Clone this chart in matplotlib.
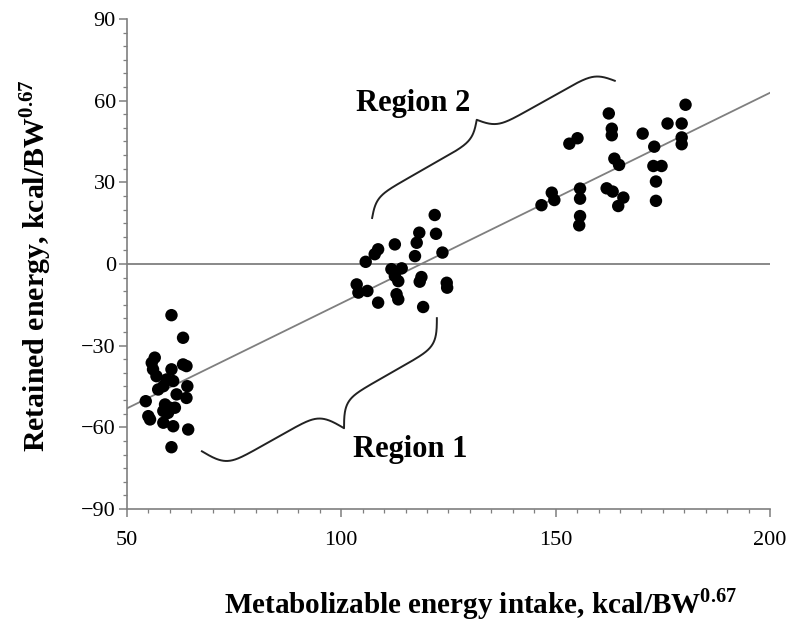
import numpy as np
import matplotlib
matplotlib.use("Agg")
import matplotlib.pyplot as plt

plt.rcParams["font.family"] = ["Liberation Serif", "DejaVu Serif"]
plt.rcParams["mathtext.fontset"] = "custom"
plt.rcParams["mathtext.rm"] = "Liberation Serif"
plt.rcParams["mathtext.bf"] = "Liberation Serif:bold"

# Region 1 (low intake)
me_low = [60.4, 63.1, 56.5, 55.8, 56.1, 60.4, 63.1, 63.9, 56.9, 59.3, 60.8, 64.1, 58.5, 57.3,
          61.6, 63.9, 54.4, 58.9, 60.0, 61.2, 58.5, 59.6, 55.0, 55.4, 58.5, 60.8, 64.3, 60.4]
re_low = [-18.8, -27.1, -34.4, -36.3, -38.7, -38.7, -36.9, -37.5, -41.2, -42.4, -43.0, -44.9,
          -44.9, -46.1, -47.9, -49.2, -50.4, -51.6, -52.8, -52.8, -54.0, -54.7, -55.9, -57.1,
          -58.3, -59.6, -60.8, -67.3]

# middle group
me_mid = [121.8, 118.2, 122.1, 117.6, 112.5, 108.6, 107.8, 117.2, 123.6, 105.7, 111.7, 114.1,
          112.5, 113.3, 118.7, 118.3, 103.6, 124.6, 124.7, 104.0, 106.1, 112.9, 113.3, 108.6, 119.1]
re_mid = [18.0, 11.5, 11.1, 7.8, 7.2, 5.4, 3.6, 2.9, 4.2, 0.8, -1.9, -1.6, -4.4, -6.3, -4.8,
          -6.5, -7.5, -6.9, -8.7, -10.5, -9.9, -11.1, -13.0, -14.2, -15.8]

# Region 2 (high intake)
me_high = [180.3, 162.4, 176.1, 179.4, 163.1, 163.1, 170.3, 155.1, 153.2, 179.4, 179.4, 173.0,
           163.7, 164.8, 172.8, 174.7, 173.4, 173.4, 161.9, 163.3, 165.8, 164.6, 155.7, 155.7,
           149.1, 149.7, 146.7, 155.7, 155.5]
re_high = [58.5, 55.3, 51.6, 51.6, 49.7, 47.3, 47.9, 46.2, 44.2, 46.5, 44.0, 43.1, 38.7, 36.4,
           36.0, 36.0, 30.3, 23.2, 27.8, 26.6, 24.4, 21.3, 27.7, 24.0, 26.2, 23.5, 21.6, 17.6, 14.2]

# regression line
fit_intercept = -91.7
fit_slope = 0.773

xticks = [50, 100, 150, 200]
yticks = [-90, -60, -30, 0, 30, 60, 90]


def curly_brace(ax, p1, p2, depth, beta=0.2, **kw):
    # brace built in pixel space so the curls keep their shape
    a = ax.transData.transform(p1)
    b = ax.transData.transform(p2)
    d = b - a
    length = np.hypot(*d)
    u = d / length
    nrm = np.array([-u[1], u[0]])
    t = np.linspace(0, length / 2, 300)
    h = 1 / (1 + np.exp(-beta * (t - t[0]))) + 1 / (1 + np.exp(-beta * (t - t[-1])))
    h = np.concatenate([h, h[-2::-1]]) - h[0]
    s = np.concatenate([t, length - t[-2::-1]])
    pts = a + np.outer(s, u) + np.outer(h * depth, nrm)
    xy = ax.transData.inverted().transform(pts)
    ax.plot(xy[:, 0], xy[:, 1], **kw)


fig = plt.figure(figsize=(7.93, 6.23), dpi=100, facecolor="white")
ax = fig.add_axes([0.160, 0.183, 0.811, 0.7865])
ax.set_xlim(50, 200)
ax.set_ylim(-90, 90)

gray = "#7f7f7f"
ax.axhline(0, color=gray, lw=1.3, zorder=1)
xs = np.array([50, 200])
ax.plot(xs, fit_intercept + fit_slope * xs, color=gray, lw=1.3, zorder=1)

for mx, ry in [(me_low, re_low), (me_mid, re_mid), (me_high, re_high)]:
    ax.scatter(mx, ry, s=80, color="black", edgecolors="none", zorder=3)

for side in ["top", "right"]:
    ax.spines[side].set_visible(False)
for side in ["left", "bottom"]:
    ax.spines[side].set_color(gray)
    ax.spines[side].set_linewidth(1.2)

ax.set_xticks(xticks)
ax.set_yticks(yticks)
ax.set_xticks(np.arange(50, 201, 5), minor=True)
ax.set_yticks(np.arange(-90, 91, 5), minor=True)
ax.set_yticklabels([str(v).replace("-", "\u2212") for v in yticks])
ax.tick_params(which="major", length=6, width=1.1, color=gray, labelsize=16, pad=2)
ax.tick_params(which="minor", length=3, width=0.9, color=gray)
ax.tick_params(axis="x", pad=10)

fig.text(481 / 793, 1 - 604 / 623, r"Metabolizable energy intake, kcal/BW$^{\mathbf{0.67}}$",
         fontsize=21, fontweight="bold", ha="center", va="center")
fig.text(36 / 793, 1 - 266 / 623, r"Retained energy, kcal/BW$^{\mathbf{0.67}}$",
         fontsize=21.5, fontweight="bold", ha="center", va="center", rotation=90)

# braces and labels
curly_brace(ax, (67.5, -68.8), (122.3, -19.9), depth=-50, beta=0.14, color="#222222", lw=1.4)
curly_brace(ax, (107.2, 16.9), (163.8, 67.3), depth=34, beta=0.14, color="#222222", lw=1.4)
ax.text(116.2, -68.0, "Region 1", fontsize=22, fontweight="bold", ha="center", va="center")
ax.text(116.7, 58.8, "Region 2", fontsize=22, fontweight="bold", ha="center", va="center")

fig.savefig("out.png", dpi=100, facecolor="white")
